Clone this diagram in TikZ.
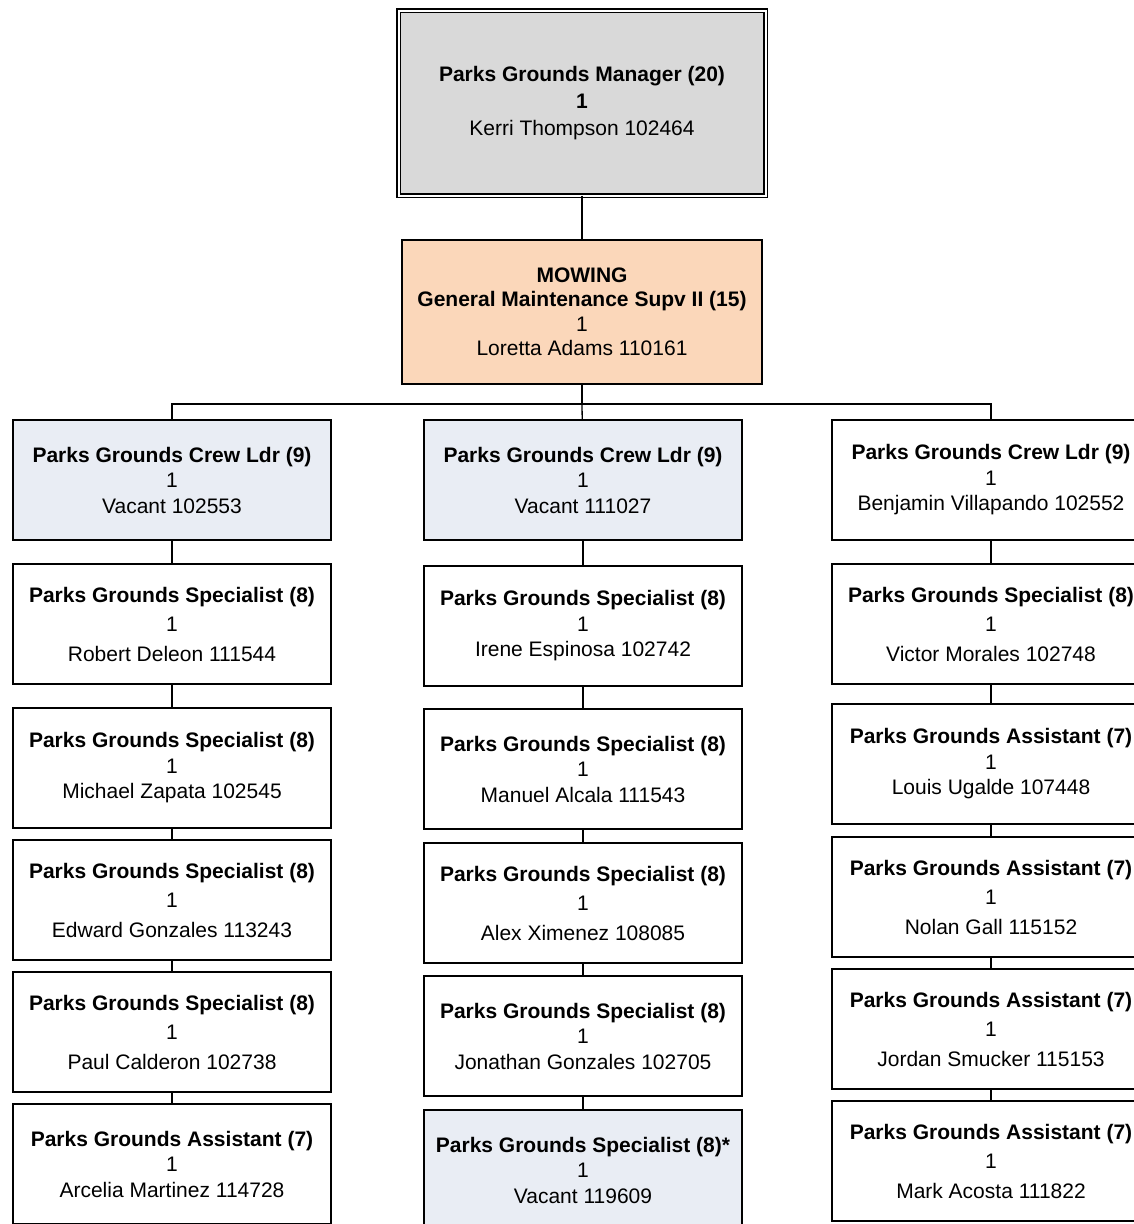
\documentclass[tikz,border=0pt]{standalone}
\usepackage{fontspec}
\setmainfont{Liberation Sans}
\usetikzlibrary{positioning}
\definecolor{mgrgray}{RGB}{217,217,217}
\definecolor{supvpeach}{RGB}{251,215,186}
\definecolor{vacblue}{RGB}{233,237,244}
\tikzset{
    post/.style={draw, rectangle, line width=1.3pt, fill=white, inner sep=0pt, outer sep=0pt,
        minimum width=318pt, minimum height=120pt, align=center,
        font=\fontsize{21}{25.5}\selectfont},
    loose/.style={font=\fontsize{21}{29.5}\selectfont},
    vacant/.style={fill=vacblue},
    mgr/.style={draw, rectangle, double, line width=1.6pt, double distance=2pt,
        fill=mgrgray, inner sep=0pt, outer sep=0pt, minimum width=367pt, minimum height=185pt,
        align=center, font=\fontsize{21}{27}\selectfont},
    supv/.style={draw, rectangle, line width=1.3pt, fill=supvpeach, inner sep=0pt, outer sep=0pt,
        minimum width=360pt, minimum height=144pt, align=center,
        font=\fontsize{21}{24.5}\selectfont},
    link/.style={line width=1.3pt} }
\newcommand{\job}[2]{\textbf{#1}\\1\\#2}

\begin{document}
\begin{tikzpicture}[x=1pt, y=-1pt, node distance=12pt]
			\useasboundingbox (0,0) rectangle (1134,1224);
			\clip (0,0) rectangle (1134,1224);
			\node[mgr] (mgr) at (582,103) {\textbf{Parks Grounds Manager (20)}\\\textbf{1}\\Kerri Thompson 102464};
			\node[supv] (supv) at (582,312) {\textbf{MOWING}\\\textbf{General Maintenance Supv II (15)}\\1\\Loretta Adams 110161};
			\coordinate (bus) at (582,404);
			% ----
			\node[post, vacant] (crewA) at (172,480) {\job{Parks Grounds Crew Ldr (9)}{Vacant 102553}};
			\node[post, loose, below = 24pt of crewA] (specA1) {\job{Parks Grounds Specialist (8)}{Robert Deleon 111544}};
			\node[post, below = 24pt of specA1] (specA2) {\job{Parks Grounds Specialist (8)}{Michael Zapata 102545}};
			\node[post, loose, below = of specA2] (specA3) {\job{Parks Grounds Specialist (8)}{Edward Gonzales 113243}};
			\node[post, loose, below = of specA3] (specA4) {\job{Parks Grounds Specialist (8)}{Paul Calderon 102738}};
			\node[post, below = of specA4] (asstA) {\job{Parks Grounds Assistant (7)}{Arcelia Martinez 114728}};
			% ----
			\node[post, vacant] (crewB) at (583,480) {\job{Parks Grounds Crew Ldr (9)}{Vacant 111027}};
			\node[post, below = 26pt of crewB] (specB1) {\job{Parks Grounds Specialist (8)}{Irene Espinosa 102742}};
			\node[post, below = 23pt of specB1] (specB2) {\job{Parks Grounds Specialist (8)}{Manuel Alcala 111543}};
			\node[post, loose, below = 14pt of specB2] (specB3) {\job{Parks Grounds Specialist (8)}{Alex Ximenez 108085}};
			\node[post, below = 13pt of specB3] (specB4) {\job{Parks Grounds Specialist (8)}{Jonathan Gonzales 102705}};
			\node[post, vacant, below = 14pt of specB4] (specB5) {\job{Parks Grounds Specialist (8)*}{Vacant 119609}};
			% ----
			\node[post] (crewC) at (991,480) {\job{Parks Grounds Crew Ldr (9)}{Benjamin Villapando 102552}};
			\node[post, loose, below = 24pt of crewC] (specC1) {\job{Parks Grounds Specialist (8)}{Victor Morales 102748}};
			\node[post, below = 20pt of specC1] (asstC1) {\job{Parks Grounds Assistant (7)}{Louis Ugalde 107448}};
			\node[post, loose, below = 13pt of asstC1] (asstC2) {\job{Parks Grounds Assistant (7)}{Nolan Gall 115152}};
			\node[post, loose, below = of asstC2] (asstC3) {\job{Parks Grounds Assistant (7)}{Jordan Smucker 115153}};
			\node[post, loose, below = of asstC3] (asstC4) {\job{Parks Grounds Assistant (7)}{Mark Acosta 111822}};
			% ----
			\draw[link] (mgr) -- (supv);
			\draw[link] (supv) -- (bus) -| (crewA);
			\draw[link] (bus) -- (crewB);
			\draw[link] (bus) -| (crewC);
			\draw[link] (crewA) -- (specA1) (specA1) -- (specA2) (specA2) -- (specA3)
			(specA3) -- (specA4) (specA4) -- (asstA);
			\draw[link] (crewB) -- (specB1) (specB1) -- (specB2) (specB2) -- (specB3)
			(specB3) -- (specB4) (specB4) -- (specB5);
			\draw[link] (crewC) -- (specC1) (specC1) -- (asstC1) (asstC1) -- (asstC2)
			(asstC2) -- (asstC3) (asstC3) -- (asstC4);
		\end{tikzpicture}
\end{document}
